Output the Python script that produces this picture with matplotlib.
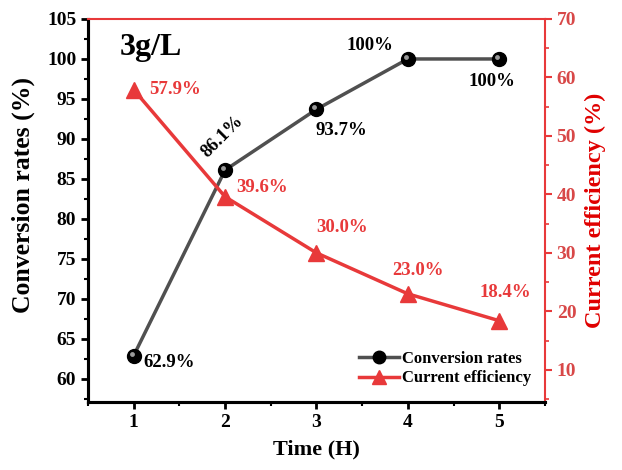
import matplotlib.pyplot as plt
from matplotlib.ticker import MultipleLocator
from matplotlib.transforms import offset_copy

time_h = [1, 2, 3, 4, 5]
conversion = [62.9, 86.1, 93.7, 100, 100]
efficiency = [57.9, 39.6, 30.0, 23.0, 18.4]
conv_labels = ['62.9%', '86.1%', '93.7%', '100%', '100%']
eff_labels = ['57.9%', '39.6%', '30.0%', '23.0%', '18.4%']

red = '#e8393a'
red_dark = '#e00000'
red_tick = '#d84848'

plt.rcParams['font.family'] = ['Liberation Serif', 'DejaVu Serif']
plt.rcParams['font.weight'] = 'bold'

fig = plt.figure(figsize=(6.22, 4.70), dpi=100)
ax = fig.add_axes([0.1415, 0.1447, 0.7345, 0.8149])
ax2 = ax.twinx()

l1, = ax.plot(time_h, conversion, color='#505050', lw=2.5, marker='o', ms=10,
              mfc='black', mec='black', label='Conversion rates', zorder=3)
# little highlight on the black balls
hl = offset_copy(ax.transData, fig=fig, x=-1.5, y=1.5, units='points')
ax.plot(time_h, conversion, ls='none', marker='o', ms=3.5, mfc='#9a9a9a',
        mec='none', transform=hl, zorder=4)
l2, = ax2.plot(time_h, efficiency, color=red, lw=2.5, marker='^', ms=11,
               mfc=red, mec=red, label='Current efficiency', zorder=3)

ax.set_xlim(0.5, 5.5)
ax.set_ylim(57.1, 105)
ax2.set_ylim(4.5, 70)

ax.xaxis.set_major_locator(MultipleLocator(1))
ax.xaxis.set_minor_locator(MultipleLocator(0.5))
ax.yaxis.set_major_locator(MultipleLocator(5))
ax.yaxis.set_minor_locator(MultipleLocator(2.5))
ax2.yaxis.set_major_locator(MultipleLocator(10))
ax2.yaxis.set_minor_locator(MultipleLocator(5))

ax.spines['top'].set_visible(False)
ax.spines['right'].set_visible(False)
for s in ['left', 'bottom']:
    ax.spines[s].set_linewidth(2.2)
    ax2.spines[s].set_linewidth(2.2)
for s in ['right', 'top']:
    ax2.spines[s].set_linewidth(1.5)
    ax2.spines[s].set_color(red)

ax.tick_params(which='major', length=5, width=2, labelsize=14)
ax.tick_params(which='minor', length=3, width=1.5)
ax2.tick_params(which='major', length=5, width=1.5, colors=red, labelsize=14)
ax2.tick_params(which='minor', length=3, width=1.2, colors=red)
for lab in ax2.get_yticklabels():
    lab.set_color(red_tick)

ax.set_xlabel('Time (H)', fontsize=16, fontweight='bold', labelpad=6)
ax.set_ylabel('Conversion rates (%)', fontsize=18.5, fontweight='bold')
ax.yaxis.set_label_coords(-0.115, 0.54)
ax2.set_ylabel('Current efficiency (%)', fontsize=17.5, fontweight='bold',
               color=red_dark, labelpad=6)

ax.text(0.07, 0.906, '3g/L', transform=ax.transAxes, fontsize=23,
        fontweight='bold', va='baseline')

# conversion labels (offsets in points)
conv_off = [(7, -5), (-2, 24), (-1, -15), (-44, 10), (-22, -16)]
conv_ha = ['left', 'center', 'left', 'left', 'left']
conv_rot = [0, 45, 0, 0, 0]
for x, y, t, o, h, r in zip(time_h, conversion, conv_labels, conv_off, conv_ha, conv_rot):
    ax.annotate(t, (x, y), xytext=o, textcoords='offset points', fontsize=13.5,
                fontweight='bold', color='black', rotation=r, ha=h, va='center')

# efficiency labels
eff_off = [(11, 0), (8, 7), (0, 18), (-11, 17), (-14, 20)]
for x, y, t, o in zip(time_h, efficiency, eff_labels, eff_off):
    ax2.annotate(t, (x, y), xytext=o, textcoords='offset points', fontsize=13.5,
                 fontweight='bold', color=red, va='center')

ax2.legend(handles=[l1, l2], loc='lower right', bbox_to_anchor=(0.995, 0.01),
           frameon=False, fontsize=12, handlelength=2.4, handletextpad=0.15,
           borderpad=0.2, labelspacing=0.2, markerscale=0.9)

fig.savefig('out.png', dpi=100)
